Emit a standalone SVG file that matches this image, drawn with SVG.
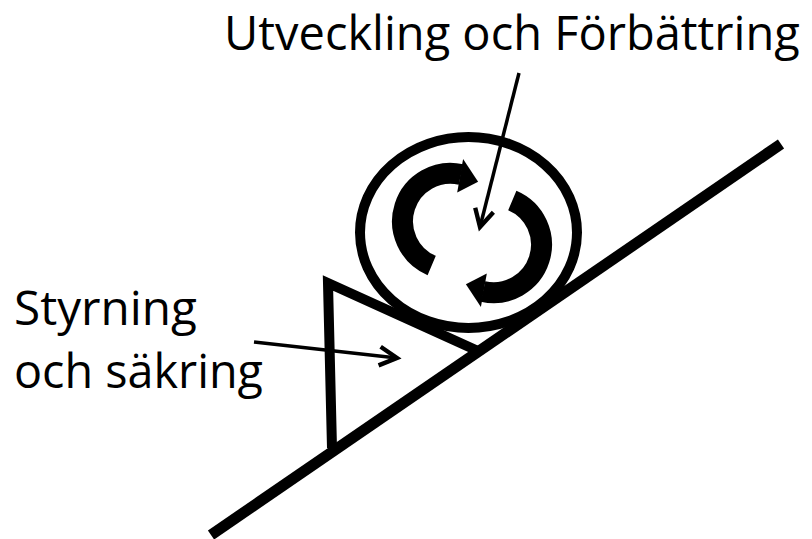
<svg xmlns="http://www.w3.org/2000/svg" width="812" height="539" viewBox="0 0 812 539">
  <style>
    .thick { fill: none; stroke: #000; stroke-linecap: butt; stroke-linejoin: miter; }
    .lbl { font-family: "Open Sans", "Noto Sans", "Liberation Sans", sans-serif; fill: #000; }
    .conn { fill: none; stroke: #000; stroke-width: 3.5; }
    .band { fill: none; stroke: #000; stroke-width: 21; stroke-linecap: butt; }
  </style>
  <defs>
    <marker id="open" markerUnits="userSpaceOnUse" markerWidth="30" markerHeight="30" viewBox="-20 -12 24 24" refX="0" refY="0" orient="auto" overflow="visible">
      <path d="M-14,-7.5 L0,0 L-14,7.5" fill="none" stroke="#000" stroke-width="3.5" stroke-linejoin="miter"/>
    </marker>
  </defs>
  <rect width="812" height="539" fill="#fff"/>

  <g id="slope">
    <line class="thick" x1="211" y1="535" x2="781" y2="144" stroke-width="11"/>
  </g>

  <g id="wedge">
    <polyline class="thick" points="332,448 328,283 478,351" stroke-width="10"/>
  </g>

  <g id="wheel">
    <ellipse class="thick" cx="468.5" cy="232.5" rx="108.5" ry="95.5" stroke-width="10"/>
  </g>

  <g id="cycle-arrows">
    <path class="band" d="M431.7,265.5 A48,48 0 0 1 461,174.5"/>
    <polygon points="457.2,192.5 463.1,159 478.1,181.7" fill="#000"/>
    <path class="band" d="M512.3,200.5 A48,48 0 0 1 483,291.5"/>
    <polygon points="486.8,273.5 480.9,307 465.9,284.3" fill="#000"/>
  </g>

  <g id="label-top">
    <text class="lbl" x="224" y="50" font-size="47">Utveckling och Förbättring</text>
  </g>

  <g id="label-left">
    <text class="lbl" x="14" y="325" font-size="47" textLength="183" lengthAdjust="spacingAndGlyphs">Styrning</text>
    <text class="lbl" x="14" y="388" font-size="47" textLength="249" lengthAdjust="spacingAndGlyphs">och säkring</text>
  </g>

  <g id="connectors">
    <line class="conn" x1="519" y1="73" x2="480" y2="227" marker-end="url(#open)"/>
    <line class="conn" x1="254" y1="342" x2="397" y2="358" marker-end="url(#open)"/>
  </g>
</svg>
